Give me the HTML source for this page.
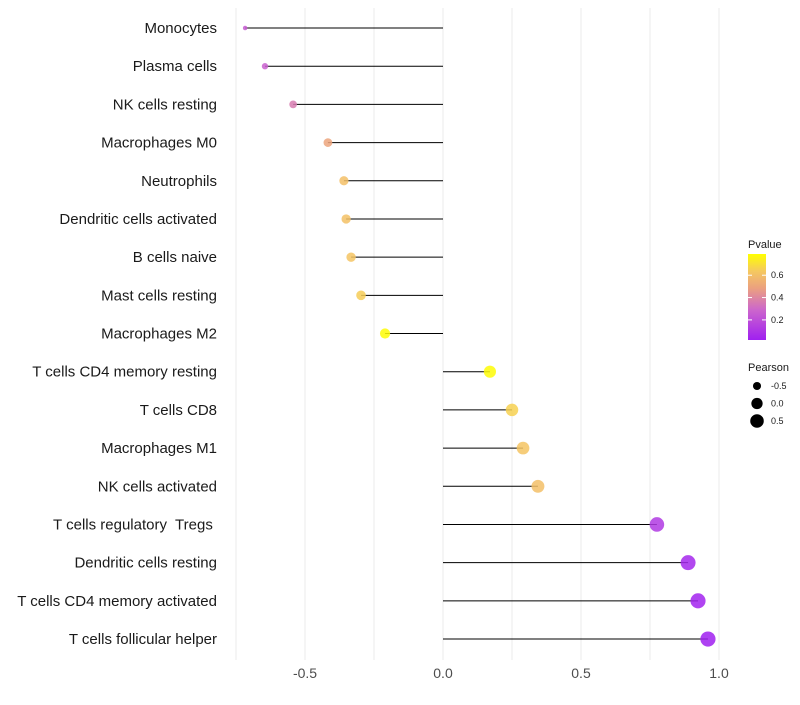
<!DOCTYPE html>
<html><head><meta charset="utf-8"><style>
body{margin:0;background:#fff;font-family:"Liberation Sans",sans-serif}
text{white-space:pre}
</style></head><body>
<svg id="c" width="800" height="700" xmlns="http://www.w3.org/2000/svg"></svg>
<script>
const categories=["Monocytes","Plasma cells","NK cells resting","Macrophages M0","Neutrophils","Dendritic cells activated","B cells naive","Mast cells resting","Macrophages M2","T cells CD4 memory resting","T cells CD8","Macrophages M1","NK cells activated","T cells regulatory  Tregs ","Dendritic cells resting","T cells CD4 memory activated","T cells follicular helper"];
const pearson=[-0.717,-0.645,-0.543,-0.417,-0.359,-0.351,-0.333,-0.297,-0.210,0.170,0.250,0.290,0.344,0.775,0.888,0.924,0.960];
const pvalue=[0.25,0.27,0.36,0.5,0.6,0.61,0.62,0.65,0.78,0.78,0.66,0.62,0.6,0.12,0.05,0.03,0.02];
const xTicks=[-0.5,0,0.5,1.0];
const xTickLabels=["-0.5","0.0","0.5","1.0"];
const gridVals=[-0.75,-0.5,-0.25,0,0.25,0.5,0.75,1.0];
const pTicks=[0.2,0.4,0.6];
const sizeTicks=[-0.5,0,0.5];

const NS="http://www.w3.org/2000/svg";
const svg=document.getElementById('c');
const x=v=>443+v*276;
const y=i=>28+i*38.19;
const r=v=>2+Math.sqrt(Math.max(0,(v+0.72)/1.68))*5.6;
const pMin=0.02,pMax=0.79;
const stops=[[0,[160,32,240]],[0.35,[204,102,204]],[0.6,[235,160,128]],[0.8,[245,200,96]],[1,[255,255,0]]];
function col(p){let t=Math.max(0,Math.min(1,(p-pMin)/(pMax-pMin)));for(let k=1;k<stops.length;k++){if(t<=stops[k][0]){const a=stops[k-1],b=stops[k];const f=(t-a[0])/(b[0]-a[0]);return 'rgb('+a[1].map((c,j)=>Math.round(c+(b[1][j]-c)*f)).join(',')+')';}}return 'rgb(255,255,0)';}
function el(t,a,txt){const e=document.createElementNS(NS,t);for(const k in a)e.setAttribute(k,a[k]);if(txt!==undefined)e.textContent=txt;svg.appendChild(e);return e;}
gridVals.forEach(v=>{const e=el('line',{x1:x(v),x2:x(v),y1:8,y2:660,stroke:'#ebebeb','stroke-width':1});

});
xTicks.forEach((v,i)=>{const e=el('text',{x:x(v),y:678,'text-anchor':'middle','font-size':14,fill:'#4d4d4d'},xTickLabels[i]);

});
categories.forEach((c,i)=>{
const t=el('text',{x:217,y:y(i)+5,'text-anchor':'end','font-size':15,fill:'#1a1a1a'},c);


const l=el('line',{x1:x(0),x2:x(pearson[i]),y1:y(i),y2:y(i),stroke:'#000','stroke-width':1});


const p=el('circle',{cx:x(pearson[i]),cy:y(i),r:r(pearson[i]),fill:col(pvalue[i]),'fill-opacity':0.85});


});
let e=el('text',{x:748,y:248,'font-size':11,fill:'#1a1a1a'},'Pvalue');


const defs=el('defs',{});const g=document.createElementNS(NS,'linearGradient');g.setAttribute('id','pg');g.setAttribute('x1','0');g.setAttribute('y1','1');g.setAttribute('x2','0');g.setAttribute('y2','0');defs.appendChild(g);
stops.forEach(s=>{const st=document.createElementNS(NS,'stop');st.setAttribute('offset',s[0]);st.setAttribute('stop-color','rgb('+s[1].join(',')+')');g.appendChild(st);});
e=el('rect',{x:748,y:254,width:18,height:86,fill:'url(#pg)'});


const py=p=>340-(p-pMin)/(pMax-pMin)*86;
pTicks.forEach(p=>{el('line',{x1:748,x2:752,y1:py(p),y2:py(p),stroke:'#fff'});el('line',{x1:762,x2:766,y1:py(p),y2:py(p),stroke:'#fff'});
const t=el('text',{x:771,y:py(p)+3,'font-size':9,fill:'#1a1a1a'},p.toFixed(1));

});
e=el('text',{x:748,y:371,'font-size':11,fill:'#1a1a1a'},'Pearson');


sizeTicks.forEach((s,i)=>{const cy=386+i*17.5;
const c=el('circle',{cx:757,cy:cy,r:r(s),fill:'#000'});


const t=el('text',{x:771,y:cy+3,'font-size':9,fill:'#1a1a1a'},s.toFixed(1));

});
</script>
</body></html>
